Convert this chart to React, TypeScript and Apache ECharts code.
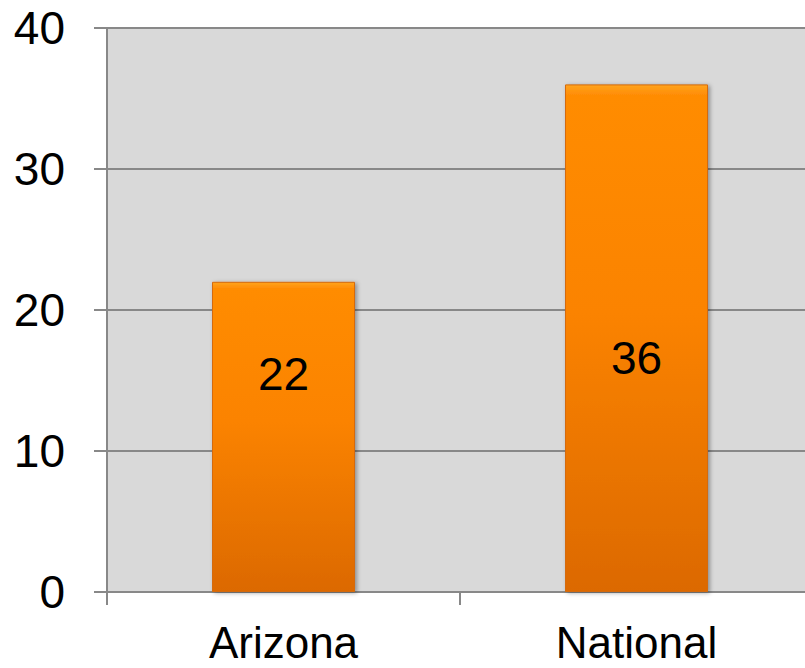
import React, { useEffect, useRef } from "react";
import * as echarts from "echarts";

const categories = ["Arizona", "National"];
const values = [22, 36];
const yTicks = [0, 10, 20, 30, 40];
const labelOffsets = [-63, 20];

export default function App() {
  const ref = useRef<HTMLDivElement>(null);
  useEffect(() => {
    const chart = echarts.init(ref.current!, null, { renderer: "svg" });
    const font = "Liberation Sans, Arial, sans-serif";
    chart.setOption({
      animation: false,
      backgroundColor: "#ffffff",
      grid: {
        left: 107,
        right: 0,
        top: 28,
        bottom: 76,
        show: true,
        backgroundColor: "#d9d9d9",
        borderWidth: 0,
      },
      xAxis: {
        type: "category",
        data: categories,
        axisLine: { show: true, lineStyle: { color: "#888888", width: 2 } },
        axisTick: { show: true, length: 13, lineStyle: { color: "#888888", width: 2 } },
        axisLabel: { color: "#000", fontSize: 44, lineHeight: 40, fontFamily: font, margin: 30 },
      },
      yAxis: {
        type: "value",
        min: yTicks[0],
        max: yTicks[yTicks.length - 1],
        interval: 10,
        axisLine: { show: true, lineStyle: { color: "#888888", width: 2 } },
        axisTick: { show: true, length: 13, lineStyle: { color: "#888888", width: 2 } },
        splitLine: { show: true, lineStyle: { color: "#888888", width: 2 } },
        axisLabel: { color: "#000", fontSize: 46, fontFamily: font, margin: 42 },
      },
      series: [
        {
          type: "bar",
          barWidth: 143,
          data: values.map((v, i) => ({
            value: v,
            label: { offset: [0, labelOffsets[i]] },
          })),
          itemStyle: {
            color: new echarts.graphic.LinearGradient(0, 0, 0, 1, [
              { offset: 0, color: "#ffa41e" },
              { offset: 0.02, color: "#ff8c05" },
              { offset: 0.45, color: "#fb8304" },
              { offset: 1, color: "#dc6906" },
            ]),
            borderColor: "#d56a08",
            borderWidth: 1,
            shadowColor: "rgba(0,0,0,0.35)",
            shadowBlur: 4,
            shadowOffsetX: 2,
            shadowOffsetY: 1,
          },
          label: {
            show: true,
            position: "inside",
            color: "#000",
            fontSize: 46,
            fontFamily: font,
          },
        },
      ],
    });
    return () => chart.dispose();
  }, []);
  return (
    <div style={{ position: "fixed", left: 0, top: 0, width: 805, height: 668, overflow: "hidden" }}>
      <div ref={ref} style={{ width: 813, height: 668 }} />
    </div>
  );
}
